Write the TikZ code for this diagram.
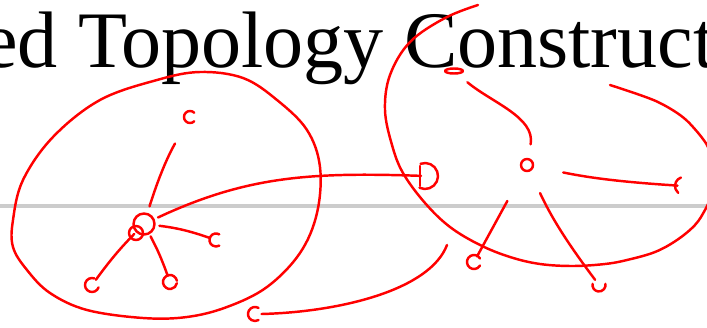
\documentclass[tikz,border=0pt]{standalone}
\usepackage{fontspec}
\setmainfont{Liberation Serif}
\usetikzlibrary{calc}
\definecolor{InkRed}{RGB}{255,0,0}
\definecolor{RuleGrey}{RGB}{204,204,204}
\tikzset{
    pen/.style={draw=InkRed, line width=1.4pt, line cap=round, line join=round},
    hub/.style={circle, pen, minimum size=0.42cm, inner sep=0pt, outer sep=0pt},
    leaf/.style={circle, minimum size=0.26cm, inner sep=0pt, outer sep=0pt},
    spoke/.style={pen, shorten <=#1},
    spoke/.default=2pt,
    heading/.style={font=\fontsize{45.6}{50}\selectfont, inner sep=0pt},
    rule/.style={draw=RuleGrey, line width=2.4pt}
}

\begin{document}
\begin{tikzpicture}[x=0.02cm, y=-0.02cm]
    \useasboundingbox (0,0) rectangle (707,328);
    \clip (0,0) rectangle (707,328);

    % Slide behind the ink
    \node[heading, anchor=base west] (heading) at (-18,67) {ed Topology Construct};
    \draw[rule] (0,206) -- (707,206);

    % Left cluster
    \node[hub] (lhub) at (144,224) {};
    \draw[pen] (136,233) circle[radius=0.14cm];
    \node[leaf] (lup) at (190,117) {};
    \node[leaf] (lright) at (216,240) {};
    \node[leaf] (ldl) at (92,285) {};
    \node[leaf] (ldown) at (170,282) {};
    \draw[pen] plot[smooth cycle, tension=0.6] coordinates {
        (243,78) (277,100) (307,130) (320,167) (317,213) (300,253) (267,287)
        (227,307) (187,317) (143,318) (87,310) (50,293) (27,270) (13,247)
        (13,220) (23,180) (53,137) (100,100) (157,80) (200,72)};

    \draw[spoke=0.16cm, shorten >=0.48cm] (lhub) to[bend left=6] (lup);
    \draw[spoke=0.1cm] (lhub) to[bend left=6] (lright);
    \draw[spoke] (lhub) to[bend right=4] (ldl);
    \draw[spoke] (lhub) to[bend left=4] (ldown);

    % Right cluster
    \node[hub, minimum size=0.24cm] (rhub) at (527,165) {};
    \node[leaf] (rtl) at (454,71) {};
    \node[leaf] (rright) at (684,186) {};
    \node[leaf] (rdl) at (474,262) {};
    \node[leaf] (rdr) at (599,285) {};
    \draw[pen] plot[smooth, tension=0.6] coordinates {
        (478,5) (445,18) (410,42) (390,75) (385,110) (392,145) (403,173)
        (425,203) (450,227) (480,245) (510,257) (540,264) (573,266) (605,264)
        (627,260) (655,252) (677,240) (695,225) (705,210) (712,195)};
    \draw[pen] plot[smooth, tension=0.6] coordinates {
        (610,85) (640,95) (660,103) (680,115) (693,127) (707,145) (712,160)};

    \draw[spoke=0.3cm, shorten >=0.22cm] (rhub) to[out=80, in=-40] (rtl);
    \draw[spoke=0.62cm] (rhub) to[bend right=4] (rright);
    \draw[spoke=0.7cm] (rhub) -- (rdl);
    \draw[spoke=0.5cm] (rhub) to[bend right=6] (rdr);

    % Hand drawn end marks
    \foreach \n/\a/\b/\r in {lup/45/315/0.12cm, lright/60/300/0.13cm,
        ldl/70/340/0.14cm, ldown/10/350/0.14cm, rright/110/230/0.18cm,
        rdl/30/330/0.14cm, rdr/170/370/0.13cm}
        \draw[pen] ([shift={(\a:\r)}]\n.center) arc[start angle=\a, end angle=\b, radius=\r];
    \draw[pen] (rtl) ellipse[x radius=0.18cm, y radius=0.05cm];

    % Link into the right cluster
    \node[circle, minimum size=0.52cm, inner sep=0pt, outer sep=0pt] (tgt) at (425,176) {};
    \draw[pen] ([shift={(110:0.26cm)}]tgt.center) arc[start angle=110, end angle=-115, radius=0.26cm];
    \draw[pen] ([yshift=0.2cm]tgt.center) ++(-0.1cm,0) -- ++(0,-0.4cm);
    \draw[spoke=0.1cm, shorten >=-0.18cm] (lhub) to[out=25, in=178] (tgt);

    % Loose stroke at the bottom
    \node[leaf] (cnote) at (255,314) {};
    \draw[pen] ([shift={(60:0.14cm)}]cnote.center) arc[start angle=60, end angle=300, radius=0.14cm];
    \coordinate (loose) at (447,245);
    \draw[pen] (cnote.east) .. controls (340,312) and (430,290) .. (loose);
\end{tikzpicture}
\end{document}
